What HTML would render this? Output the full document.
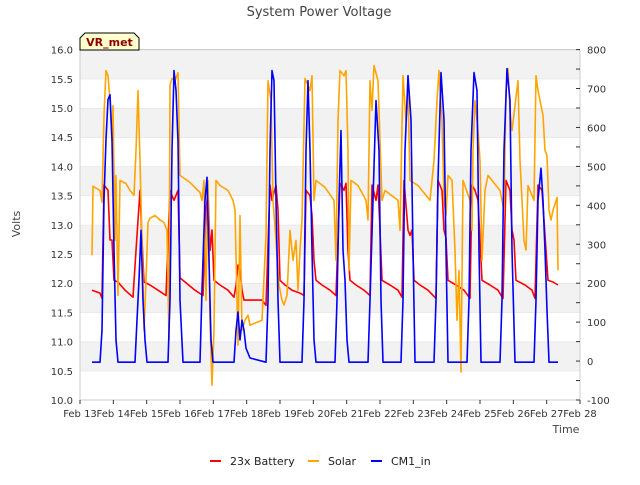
<!DOCTYPE html>
<html><head><meta charset="utf-8"><style>
body{margin:0;background:#fff;}
svg{font-family:"DejaVu Sans","Liberation Sans",sans-serif;}
</style></head><body>
<svg id="chart" width="640" height="480" viewBox="0 0 640 480" xmlns="http://www.w3.org/2000/svg">
<text x="319" y="16" text-anchor="middle" font-size="13" fill="#444">System Power Voltage</text>
<g id="bands"></g>
<rect x="80" y="49.6" width="500" height="350.4" fill="none" stroke="#ccc"/>
<g id="axes"></g>
<g id="series"></g>
<text transform="translate(20,224) rotate(-90)" text-anchor="middle" font-size="11" fill="#444">Volts</text>
<text x="566" y="433" text-anchor="middle" font-size="11" fill="#444">Time</text>
<g>
<path d="M80,50 L80,38 L85,33 L134,33 L139,38 L139,50 Z" fill="#ffffcc" stroke="#000" stroke-width="1"/>
<text x="109.5" y="46" text-anchor="middle" font-size="11" font-weight="bold" fill="#8b0000">VR_met</text>
</g>
<g font-size="11" fill="#222">
<g><line x1="210" y1="461" x2="221" y2="461" stroke="red" stroke-width="2"/><text x="230" y="465">23x Battery</text></g>
<g><line x1="308" y1="461" x2="319" y2="461" stroke="orange" stroke-width="2"/><text x="328" y="465">Solar</text></g>
<g><line x1="371" y1="461" x2="382" y2="461" stroke="blue" stroke-width="2"/><text x="391" y="465">CM1_in</text></g>
</g>
</svg>
<script>
const xTickLabels=["Feb 13","Feb 14","Feb 15","Feb 16","Feb 17","Feb 18","Feb 19","Feb 20","Feb 21","Feb 22","Feb 23","Feb 24","Feb 25","Feb 26","Feb 27","Feb 28"];
const leftTicks=[10.0,10.5,11.0,11.5,12.0,12.5,13.0,13.5,14.0,14.5,15.0,15.5,16.0];
const rightTicks=[-100,0,100,200,300,400,500,600,700,800];
// days since Feb 13, value
const batteryT=[0.36,0.6,0.66,0.72,0.84,0.9,0.96,1.02,1.14,1.35,1.59,1.68,1.8,1.86,1.92,2.1,2.34,2.58,2.7,2.76,2.82,2.94,3.0,3.15,3.45,3.69,3.78,3.84,3.9,3.96,4.02,4.2,4.44,4.62,4.68,4.74,4.8,4.86,4.92,5.46,5.58,5.7,5.76,5.88,5.94,6.0,6.15,6.36,6.6,6.72,6.78,6.9,6.96,7.02,7.08,7.26,7.5,7.68,7.8,7.92,7.98,8.04,8.1,8.28,8.52,8.7,8.76,8.88,8.94,9.0,9.06,9.3,9.54,9.66,9.72,9.84,9.9,9.96,10.02,10.2,10.44,10.68,10.74,10.86,10.92,10.98,11.04,11.28,11.52,11.7,11.76,11.85,11.94,12.0,12.06,12.3,12.54,12.69,12.78,12.9,12.96,13.02,13.08,13.35,13.56,13.65,13.74,13.86,13.98,14.04,14.19,14.34];
const batteryV=[11.88,11.83,11.74,13.68,13.59,12.74,12.74,12.05,12.02,11.88,11.76,12.56,13.59,12.74,12.02,11.97,11.88,11.79,13.59,13.5,13.42,13.59,12.09,12.02,11.88,11.79,13.25,13.59,12.56,12.91,12.05,11.97,11.88,11.76,11.97,12.31,12.22,11.88,11.71,11.71,11.62,13.68,13.42,13.68,13.25,12.05,11.97,11.88,11.83,11.79,13.59,13.5,13.16,12.39,12.05,11.97,11.88,11.79,13.71,13.59,13.71,12.56,12.05,11.97,11.88,11.79,13.68,13.42,13.68,12.91,12.05,11.97,11.88,11.76,13.76,12.91,12.82,12.91,12.05,11.97,11.88,11.74,13.76,13.59,12.91,12.77,12.05,11.97,11.88,11.74,13.68,13.59,13.42,12.74,12.05,11.97,11.88,11.74,13.76,13.59,12.91,12.74,12.05,11.97,11.88,11.74,13.68,13.59,12.56,12.05,12.02,11.97];
const solarT=[0.36,0.39,0.6,0.66,0.72,0.78,0.84,0.9,0.96,0.99,1.05,1.08,1.14,1.2,1.38,1.5,1.62,1.68,1.74,1.8,1.86,1.92,1.98,2.04,2.1,2.25,2.4,2.52,2.61,2.67,2.7,2.76,2.85,2.94,3.0,3.3,3.6,3.66,3.72,3.78,3.84,3.9,3.96,4.02,4.08,4.2,4.44,4.59,4.65,4.74,4.8,4.86,4.95,5.04,5.1,5.46,5.58,5.64,5.73,5.79,5.88,5.97,6.06,6.12,6.21,6.3,6.39,6.48,6.54,6.6,6.66,6.75,6.84,6.9,6.96,7.02,7.08,7.35,7.62,7.68,7.74,7.8,7.92,7.98,8.04,8.07,8.13,8.34,8.58,8.64,8.7,8.76,8.82,8.94,9.0,9.06,9.15,9.54,9.6,9.69,9.78,9.84,9.9,10.14,10.5,10.62,10.71,10.77,10.86,10.92,10.98,11.04,11.16,11.25,11.31,11.37,11.43,11.49,11.7,11.76,11.79,11.85,11.94,12.0,12.06,12.15,12.24,12.6,12.72,12.78,12.84,12.9,12.96,13.05,13.14,13.2,13.26,13.32,13.38,13.44,13.62,13.68,13.74,13.8,13.89,13.95,14.01,14.07,14.13,14.19,14.31,14.34];
const solarV=[272,449,438,408,631,746,733,669,567,656,310,477,169,464,456,438,426,541,695,515,310,79,208,356,367,374,362,356,336,54,708,726,720,741,477,459,433,413,464,156,464,105,-62,79,464,451,438,413,387,41,374,79,105,118,92,105,323,720,669,413,310,195,156,144,169,336,259,310,182,285,362,726,708,695,733,413,464,446,413,259,618,746,733,746,541,233,464,451,413,362,720,644,759,720,567,413,438,413,336,733,618,695,464,451,413,515,669,746,618,413,374,477,464,285,105,233,-28,464,413,336,541,669,592,515,259,438,477,438,387,695,751,644,592,656,720,515,413,310,285,451,413,733,695,669,631,541,528,387,362,387,420,233];
const cm1T=[0.36,0.6,0.66,0.72,0.78,0.84,0.9,0.96,1.02,1.08,1.14,1.65,1.71,1.77,1.83,1.89,1.95,2.01,2.64,2.7,2.76,2.82,2.88,2.94,3.0,3.09,3.6,3.66,3.75,3.81,3.87,3.93,3.99,4.62,4.68,4.74,4.8,4.86,4.92,4.98,5.1,5.58,5.64,5.7,5.76,5.82,5.88,5.94,6.0,6.66,6.72,6.78,6.84,6.9,6.96,7.02,7.08,7.65,7.71,7.77,7.83,7.89,7.95,8.01,8.07,8.64,8.7,8.79,8.88,8.97,9.03,9.09,9.63,9.69,9.75,9.84,9.93,9.99,10.05,10.62,10.68,10.74,10.83,10.92,10.98,11.04,11.61,11.67,11.73,11.82,11.91,11.97,12.03,12.6,12.66,12.72,12.81,12.9,12.96,13.05,13.62,13.68,13.74,13.83,13.89,13.95,14.01,14.07,14.34];
const cm1V=[-3,-3,79,415,569,672,684,569,285,54,-3,-3,105,208,336,156,54,-3,-3,156,541,746,695,566,156,-3,-3,182,413,472,259,54,-3,-3,79,126,54,105,79,33,8,-3,156,541,746,720,413,156,-3,-3,156,541,720,541,285,54,-3,-3,156,413,592,285,208,54,-3,-3,156,413,669,541,156,-3,-3,156,541,733,620,285,-3,-3,156,464,741,620,285,-3,-3,156,541,741,695,285,-3,-3,156,541,751,669,285,-3,-3,156,413,495,413,285,131,-3,-3];

const X0=80,X1=580,YT=49.6,YB=400;
const xS=d=>X0+d*(X1-X0)/15;
const yL=v=>YB-(v-10)*(YB-YT)/6;
const yR=v=>YB-(v+100)*(YB-YT)/900;
const NS="http://www.w3.org/2000/svg";
function mk(tag,attrs,parent){const e=document.createElementNS(NS,tag);for(const k in attrs)e.setAttribute(k,attrs[k]);parent.appendChild(e);return e;}
const bands=document.getElementById('bands'),axes=document.getElementById('axes'),series=document.getElementById('series');
for(let i=0;i<leftTicks.length-1;i++){
  const v0=leftTicks[i],v1=leftTicks[i+1];
  const r=mk('rect',{x:X0,y:yL(v1),width:X1-X0,height:yL(v0)-yL(v1),fill:(i%2===1)?'#f2f2f2':'#fff'},bands);
  
  
  const g=mk('line',{x1:X0,x2:X1,y1:yL(v1),y2:yL(v1),stroke:'#ddd'},bands);
  
  
}
leftTicks.forEach(v=>{
  const t=mk('text',{x:73,y:yL(v)+4,'text-anchor':'end','font-size':10,fill:'#333'},axes);
  t.textContent=v.toFixed(1);
  
  
});
rightTicks.forEach(v=>{
  const t=mk('text',{x:587,y:yR(v)+4,'font-size':10,fill:'#333'},axes);
  t.textContent=String(v);
  
  
});
for(let v=-100;v<=800;v+=50){
  const l=mk('line',{x1:X1,x2:X1-4,y1:yR(v),y2:yR(v),stroke:'#333'},axes);
  
  
}
xTickLabels.forEach((s,i)=>{
  const l=mk('line',{x1:xS(i),x2:xS(i),y1:YB,y2:YB+4,stroke:'#333'},axes);
  
  
  const t=mk('text',{x:xS(i),y:417,'text-anchor':'middle','font-size':10,fill:'#333'},axes);
  t.textContent=s;
  
  
});
function line(T,V,yf,color,name){
  const d=T.map((t,i)=>(i?'L':'M')+xS(t).toFixed(1)+','+yf(V[i]).toFixed(1)).join('');
  const p=mk('path',{d:d,fill:'none',stroke:color,'stroke-width':1.6,'stroke-linejoin':'round'},series);
  
  
}
line(batteryT,batteryV,yL,'red','battery-line');
line(solarT,solarV,yR,'orange','solar-line');
line(cm1T,cm1V,yR,'blue','cm1-in-line');
</script>
</body></html>
